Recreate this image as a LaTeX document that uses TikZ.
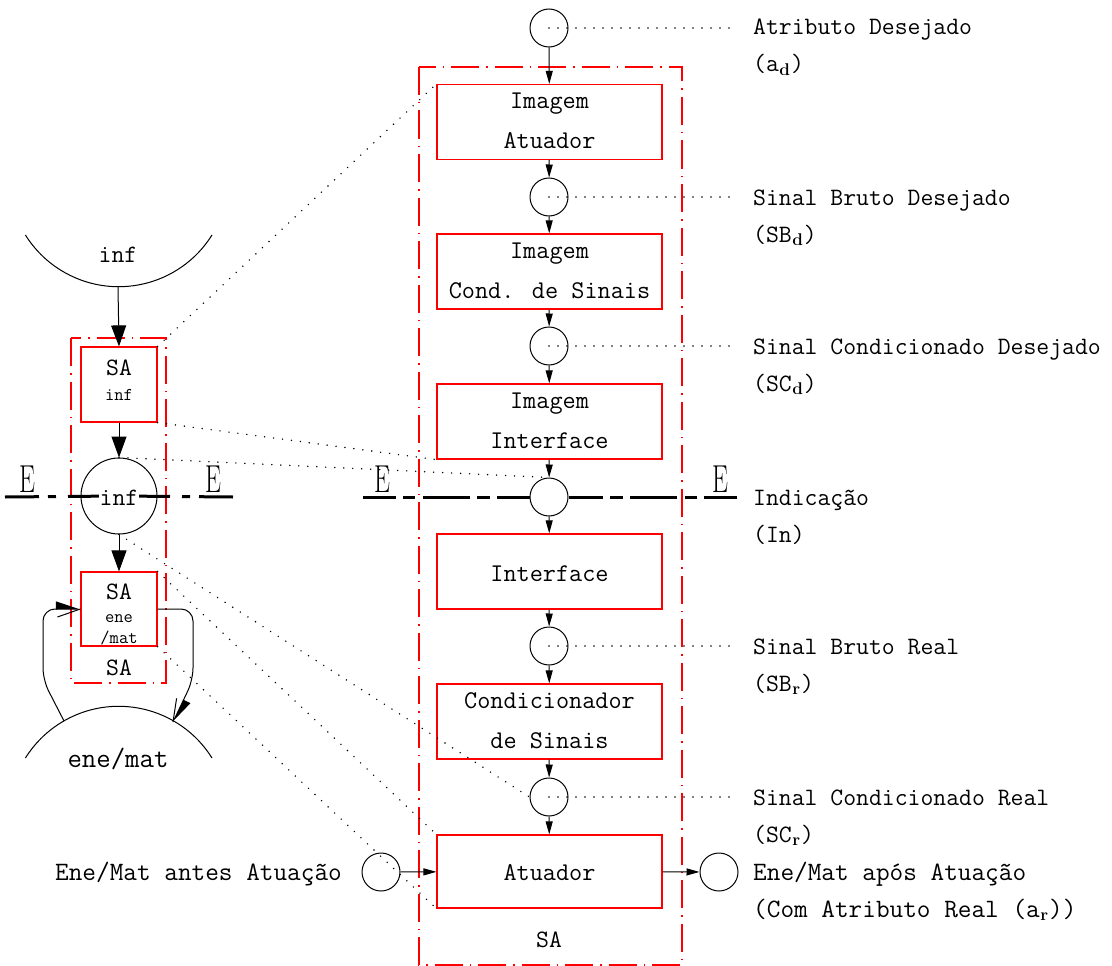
\documentclass[tikz,border=0pt]{standalone}
\usepackage{fontspec}
\usetikzlibrary{arrows.meta,calc}
% text faces used in the sketch (typewriter face, drafting look)
\newcommand\lblface{\ttfamily\fontsize{25}{28}\selectfont}
\newcommand\wideface{\ttfamily\fontsize{26.5}{28}\selectfont}
\newcommand\boxface{\ttfamily\fontsize{25.5}{30}\selectfont}
\newcommand\sideface{\ttfamily\fontsize{25}{28}\selectfont}
\newcommand\tinyface{\ttfamily\fontsize{18}{20}\selectfont}
\newcommand\subbf[1]{\kern0.5pt\raisebox{-3.5pt}{\rmfamily\fontsize{17}{17}\selectfont\bfseries #1}\kern1pt}
\newcommand\bigE{\scalebox{0.65}[1]{\fontsize{39}{39}\selectfont E}}
\begin{document}
\begin{tikzpicture}[x=1pt,y=-1pt,
  blk/.style={draw=red,line width=1.2pt,minimum width=225pt,minimum height=75pt,inner sep=0pt},
  sblk/.style={draw=red,line width=1.2pt,minimum width=76pt,minimum height=75pt,inner sep=0pt},
  sig/.style={draw,circle,line width=1pt,minimum size=38pt,inner sep=0pt},
  frame/.style={draw=red,line width=1.2pt,dash pattern=on 28pt off 7pt on 1.5pt off 7pt},
  flow/.style={line width=1pt,-{Triangle[length=13pt,width=7pt]}},
  bigflow/.style={line width=1pt,-{Triangle[length=21pt,width=15pt]}},
  halfflow/.style={line width=1pt,rounded corners=12pt,-{Triangle[left,length=23pt,width=15pt]}},
  leader/.style={line width=1.6pt,line cap=round,dash pattern=on 0pt off 9pt},
  eline/.style={line width=3pt,dash pattern=on 33pt off 7pt on 12pt off 8pt on 47pt off 7pt on 13pt off 7pt on 60pt},
  elineL/.style={line width=3pt,dash pattern=on 34pt off 9pt on 8pt off 12pt on 80pt},
  lbl/.style={anchor=base west,inner sep=0pt,font=\lblface},
  btxt/.style={anchor=base,inner sep=0pt,font=\boxface},
  stxt/.style={anchor=base,inner sep=0pt,font=\sideface},
  ttxt/.style={anchor=base,inner sep=0pt,font=\tinyface},
  etxt/.style={anchor=base,inner sep=0pt}]
\useasboundingbox (0,0) rectangle (1112,966);

% ---------------- main chain ----------------
\draw[frame] (419,67) rectangle (682,965);
\node[stxt] (saMain) at (549,947) {SA};

\node[sig] (c0) at (549,28) {};
\node[blk] (b1) at (549.5,122) {};
\node[btxt] (b1a) at (549.5,109) {Imagem};
\node[btxt] (b1b) at (549.5,148) {Atuador};
\node[sig] (c1) at (549,197) {};
\node[blk] (b2) at (549.5,271.5) {};
\node[btxt] (b2a) at (549.5,258) {Imagem};
\node[btxt] (b2b) at (549.5,298) {Cond. de Sinais};
\node[sig] (c2) at (549,346) {};
\node[blk] (b3) at (549.5,421.5) {};
\node[btxt] (b3a) at (549.5,408) {Imagem};
\node[btxt] (b3b) at (549.5,448) {Interface};
\node[sig] (c3) at (549,497) {};
\node[blk] (b4) at (549.5,571.5) {};
\node[btxt] (b4a) at (549.5,581) {Interface};
\node[sig] (c4) at (549,646) {};
\node[blk] (b5) at (549.5,721.5) {};
\node[btxt] (b5a) at (549.5,708) {Condicionador};
\node[btxt] (b5b) at (549.5,748) {de Sinais};
\node[sig] (c5) at (549,797) {};
\node[blk,minimum height=73pt] (b6) at (549.5,871.5) {};
\node[btxt] (b6a) at (549.5,880) {Atuador};
\node[sig] (cin) at (381,872) {};
\node[sig] (cout) at (719,872) {};

\draw[flow] (c0) -- (b1);
\draw[flow] (b1) -- (c1);
\draw[flow] (c1) -- (b2);
\draw[flow] (b2) -- (c2);
\draw[flow] (c2) -- (b3);
\draw[flow] (b3) -- (c3);
\draw[flow] (c3) -- (b4);
\draw[flow] (b4) -- (c4);
\draw[flow] (c4) -- (b5);
\draw[flow] (b5) -- (c5);
\draw[flow] (c5) -- (b6);
\draw[flow] (cin) -- (b6);
\draw[flow] (b6) -- (cout);

% boundary line E--E through the indication
\coordinate (eA) at (363,497);
\coordinate (eB) at (737,497);
\draw[eline] (eA) -- (c3.west);
\draw[eline] (eB) -- (c3.east);
\node[etxt] (eAt) at (382,492) {\bigE};
\node[etxt] (eBt) at (720,492) {\bigE};

% leaders to the signal names
\coordinate (t0) at (737,28);
\coordinate (t1) at (737,197);
\coordinate (t2) at (737,346);
\coordinate (t4) at (737,646);
\coordinate (t5) at (737,797);
\draw[leader] (c0.center) -- (t0);
\draw[leader] (c1.center) -- (t1);
\draw[leader] (c2.center) -- (t2);
\draw[leader] (c4.center) -- (t4);
\draw[leader] (c5.center) -- (t5);

\node[lbl] (l0a) at (753,35) {Atributo Desejado};
\node[lbl] (l0b) at (753,72) {(a\subbf{d})};
\node[lbl] (l1a) at (753,205) {Sinal Bruto Desejado};
\node[lbl] (l1b) at (753,242) {(SB\subbf{d})};
\node[lbl] (l2a) at (753,354) {Sinal Condicionado Desejado};
\node[lbl] (l2b) at (753,391) {(SC\subbf{d})};
\node[lbl] (l3a) at (753,505) {Indicação};
\node[lbl] (l3b) at (753,542) {(In)};
\node[lbl] (l4a) at (753,654) {Sinal Bruto Real};
\node[lbl] (l4b) at (753,691) {(SB\subbf{r})};
\node[lbl] (l5a) at (753,805) {Sinal Condicionado Real};
\node[lbl] (l5b) at (753,842) {(SC\subbf{r})};
\node[lbl,font=\wideface] (l6a) at (753,880) {Ene/Mat após Atuação};
\node[lbl,font=\wideface] (l6b) at (753,917) {(Com Atributo Real (a\subbf{r}))};
\node[lbl,font=\wideface,anchor=base east] (lin) at (342,880) {Ene/Mat antes Atuação};

% ---------------- condensed view on the left ----------------
\draw[line width=1pt] (212,235) arc[start angle=32,end angle=148,radius=110];
\coordinate (infArc) at (118,287);
\node[stxt] (infTop) at (118,262) {inf};

\draw[frame] (71,338) rectangle (166,683);
\node[sblk] (saInf) at (119,384.5) {};
\node[stxt] (saInfA) at (119,375) {SA};
\node[ttxt] (saInfB) at (119,400) {inf};
\node[draw,circle,line width=1pt,minimum size=76pt,inner sep=0pt] (infc) at (119,496) {};
\node[sblk,minimum height=74pt] (saEm) at (119,609) {};
\node[stxt] (saEmA) at (119,599) {SA};
\node[ttxt] (saEmB) at (119,622) {ene};
\node[ttxt] (saEmC) at (119,643) {/mat};
\node[stxt] (saLeft) at (119,675) {SA};

\draw[line width=1pt] (212,758) arc[start angle=-32,end angle=-148,radius=110];
\node[stxt,font=\ttfamily\fontsize{28}{30}\selectfont] (eneBot) at (118,767) {ene/mat};

\draw[bigflow] (infArc) -- (saInf.north);
\draw[bigflow] (saInf.south) -- (infc.north);
\draw[bigflow] (infc.south) -- (saEm.north);

% loop through energy / matter
\coordinate (lpA) at (64,721);
\coordinate (lpB) at (173,722);
\draw[halfflow] (lpA) -- (43,680) -- (43,609) -- (saEm.west);
\draw[line width=1pt] ($(saEm.west)+(-23,8)$) -- (saEm.west);
\draw[halfflow] (saEm.east) -- (193,609) -- (193,680) -- (lpB);
\draw[line width=1pt] ($(lpB)+(3.6,-23.7)$) -- (lpB);

% boundary line through the indication
\coordinate (lA) at (5,497);
\coordinate (lB) at (233,497);
\draw[elineL] (lA) -- (infc.center);
\draw[elineL] (lB) -- (infc.center);
\node[stxt,fill=white,inner sep=1pt] (infMid) at (119,505) {inf};
\node[etxt] (lAt) at (27,492) {\bigE};
\node[etxt] (lBt) at (213,492) {\bigE};

% leaders from the condensed view to the chain
\draw[leader] (saInf.north east) -- (b1.north west);
\draw[leader] (saInf.south east) -- (b3.south west);
\draw[leader] (infc.north) -- (c3.north);
\draw[leader] (infc.south) -- (c5.west);
\draw[leader] (saEm.north east) -- (b6.north west);
\draw[leader] (saEm.south east) -- (b6.south west);
\end{tikzpicture}
\end{document}
